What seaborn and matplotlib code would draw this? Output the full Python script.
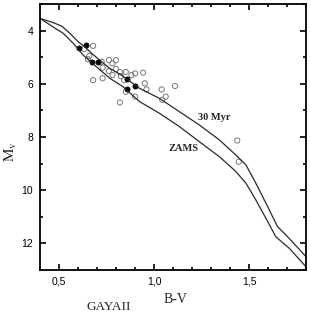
import numpy as np
import pandas as pd
import matplotlib
matplotlib.use("Agg")
import matplotlib.pyplot as plt
from matplotlib.ticker import MultipleLocator
import seaborn as sns

# isochrones (B-V, Mv)
zams_bv = [0.40, 0.479, 0.522, 0.575, 0.627, 0.697, 0.767, 0.837, 0.924, 1.029,
           1.134, 1.239, 1.344, 1.431, 1.484, 1.536, 1.589, 1.641, 1.711, 1.80]
zams_mv = [3.54, 3.91, 4.10, 4.48, 4.92, 5.36, 5.79, 6.11, 6.67, 7.11,
           7.61, 8.18, 8.74, 9.30, 9.74, 10.37, 11.06, 11.75, 12.18, 12.88]

iso30_bv = [0.40, 0.470, 0.514, 0.557, 0.601, 0.636, 0.671, 0.724, 0.767, 0.828,
            0.924, 1.029, 1.134, 1.239, 1.344, 1.431, 1.484, 1.536, 1.589, 1.650,
            1.711, 1.80]
iso30_mv = [3.54, 3.70, 3.83, 4.10, 4.42, 4.61, 4.85, 5.17, 5.42, 5.67,
            6.17, 6.55, 7.05, 7.55, 8.11, 8.68, 9.05, 9.74, 10.49, 11.37,
            11.81, 12.50]

# members (filled) and other stars (open)
memb_bv = [0.603, 0.641, 0.671, 0.703, 0.860, 0.860, 0.902]
memb_mv = [4.67, 4.54, 5.19, 5.18, 5.83, 6.21, 6.08]

other_bv = [0.632, 0.679, 0.659, 0.652, 0.724, 0.729, 0.762, 0.781, 0.799, 0.762,
            0.799, 0.820, 0.781, 0.825, 0.851, 0.881, 0.900, 0.942, 0.679, 0.729,
            0.842, 0.951, 0.960, 0.851, 0.900, 0.820, 1.040, 1.110, 1.061, 1.043,
            1.438, 1.446]
other_mv = [4.69, 4.57, 4.95, 5.07, 5.17, 5.39, 5.11, 5.23, 5.11, 5.52,
            5.44, 5.56, 5.67, 5.71, 5.55, 5.67, 5.61, 5.58, 5.86, 5.79,
            5.86, 5.98, 6.21, 6.30, 6.48, 6.70, 6.21, 6.08, 6.48, 6.60,
            8.13, 8.93]

xtick_vals = [0.5, 1.0, 1.5]
xtick_labels = ["0,5", "1,0", "1,5"]
ytick_vals = [4, 6, 8, 10, 12]

iso = pd.concat([
    pd.DataFrame({"bv": zams_bv, "mv": zams_mv, "curve": "ZAMS"}),
    pd.DataFrame({"bv": iso30_bv, "mv": iso30_mv, "curve": "30 Myr"}),
])

sns.set_style("ticks")
plt.rcParams["mathtext.fontset"] = "stix"

fig = plt.figure(figsize=(3.11, 3.15), dpi=100)
ax = fig.add_axes([0.129, 0.143, 0.855, 0.844])

sns.lineplot(data=iso, x="bv", y="mv", units="curve", estimator=None, sort=False,
             color="#2a2a2a", linewidth=0.9, ax=ax, legend=False)
sns.scatterplot(x=other_bv, y=other_mv, s=14, facecolor="none", edgecolor="#777777",
                linewidth=0.7, ax=ax)
sns.scatterplot(x=memb_bv, y=memb_mv, s=14, color="black", edgecolor="black",
                linewidth=0.5, ax=ax)

ax.set_xlim(0.4, 1.8)
ax.set_ylim(13, 3)
ax.set_xticks(xtick_vals)
ax.set_xticklabels(xtick_labels)
ax.set_yticks(ytick_vals)
ax.xaxis.set_minor_locator(MultipleLocator(0.1))
ax.yaxis.set_minor_locator(MultipleLocator(1))
ax.tick_params(which="both", direction="in", top=True, right=True, width=1.2,
               labelsize=7.5, colors="black", pad=5)
ax.tick_params(which="major", length=4.5)
ax.tick_params(which="minor", length=2.5)
for lbl in ax.get_xticklabels() + ax.get_yticklabels():
    lbl.set_family("Liberation Sans")
for sp in ax.spines.values():
    sp.set_linewidth(1.3)
    sp.set_color("black")

ax.set_xlabel("")
ax.set_ylabel("")
fig.text(0.563, 0.048, "B-V", family="Liberation Serif", fontsize=10,
         ha="center", va="center")
fig.text(0.35, 0.026, "GAYAII", family="Liberation Serif", fontsize=9.5,
         ha="center", va="center")
fig.text(0.035, 0.52, r"$\mathrm{M}_{\mathrm{v}}$", fontsize=11, rotation=90,
         ha="center", va="center")

ax.text(1.318, 7.26, "30 Myr", family="Liberation Serif", fontsize=7.5,
        fontweight="bold", ha="center", va="center")
ax.text(1.157, 8.45, "ZAMS", family="Liberation Serif", fontsize=7.5,
        fontweight="bold", ha="center", va="center")

fig.savefig("out.png", dpi=100)
